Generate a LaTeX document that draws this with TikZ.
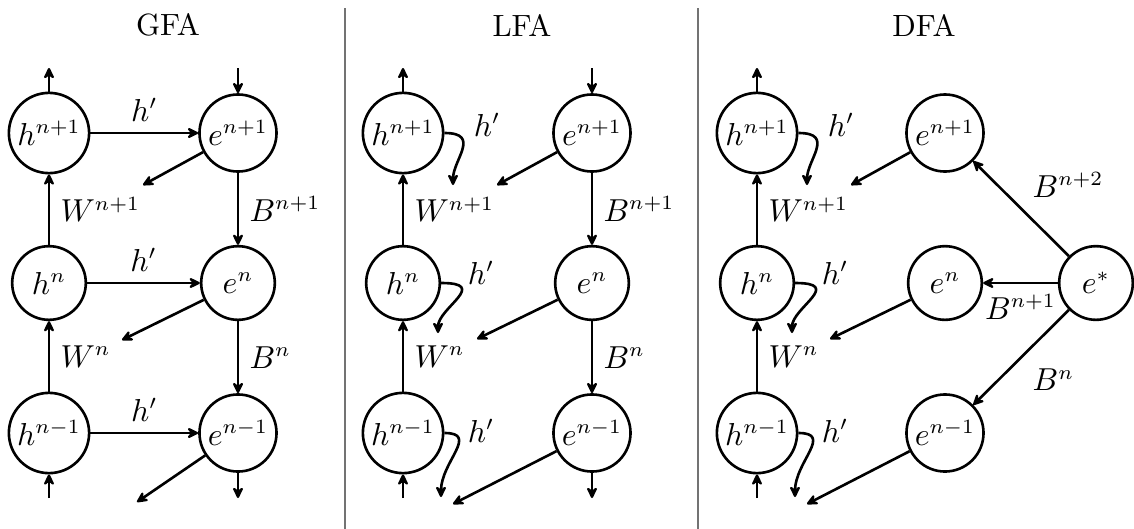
\documentclass[tikz,border=0pt]{standalone}
\usetikzlibrary{arrows.meta}
\begin{document}
\fontsize{10.6pt}{12.7pt}\selectfont
\begin{tikzpicture}[x=0.3448pt, y=-0.3448pt,
  unit/.style={circle, draw, line width=0.9pt, inner sep=1.6pt, minimum size=25.4pt},
  flow/.style={line width=0.9pt, -{Stealth[length=5pt, width=4.8pt, inset=2pt, round]}},
  panel/.style={draw=black!55, line width=0.5pt},
  title/.style={inner sep=0pt}]
\useasboundingbox (0,0) rectangle (1134,529);

% panel separators
\coordinate (s1t) at (345,8);  \coordinate (s1b) at (345,529);
\coordinate (s2t) at (698,8);  \coordinate (s2b) at (698,529);
\draw[panel] (s1t) -- (s1b);
\draw[panel] (s2t) -- (s2b);

% titles
\node[title] (tg) at (168,25) {GFA};
\node[title] (tl) at (522,25) {LFA};
\node[title] (td) at (924,25) {DFA};

% ---------------- GFA ----------------
\node[unit] (gha) at (49,133) {$h^{n+1}$};
\node[unit] (ghb) at (49,283) {$h^{n}$};
\node[unit] (ghc) at (49,433) {$h^{n-1}$};
\node[unit] (gea) at (238,133) {$e^{n+1}$};
\node[unit] (geb) at (238,283) {$e^{n}$};
\node[unit] (gec) at (238,433) {$e^{n-1}$};
\coordinate (gth) at (49,68);   \coordinate (gte) at (238,68);
\coordinate (gbh) at (49,498);  \coordinate (gbe) at (238,498);
\coordinate (gwa) at (143,185); \coordinate (gwb) at (122,340);
\coordinate (gwc) at (137,502);

\draw[flow] (gha) -- (gth);
\draw[flow] (gte) -- (gea);
\draw[flow] (gbh) -- (ghc);
\draw[flow] (gec) -- (gbe);
\draw[flow] (ghc) -- node[midway,right] {$W^{n}$} (ghb);
\draw[flow] (ghb) -- node[midway,right] {$W^{n+1}$} (gha);
\draw[flow] (gha) -- node[midway,above] {$h'$} (gea);
\draw[flow] (ghb) -- node[midway,above] {$h'$} (geb);
\draw[flow] (ghc) -- node[midway,above] {$h'$} (gec);
\draw[flow] (gea) -- node[midway,right] {$B^{n+1}$} (geb);
\draw[flow] (geb) -- node[midway,right] {$B^{n}$} (gec);
\draw[flow] (gea) -- (gwa);
\draw[flow] (geb) -- (gwb);
\draw[flow] (gec) -- (gwc);

% ---------------- LFA ----------------
\node[unit] (lha) at (403,133) {$h^{n+1}$};
\node[unit] (lhb) at (403,283) {$h^{n}$};
\node[unit] (lhc) at (403,433) {$h^{n-1}$};
\node[unit] (lea) at (592,133) {$e^{n+1}$};
\node[unit] (leb) at (592,283) {$e^{n}$};
\node[unit] (lec) at (592,433) {$e^{n-1}$};
\coordinate (lth) at (403,68);  \coordinate (lte) at (592,68);
\coordinate (lbh) at (403,498); \coordinate (lbe) at (592,498);
\coordinate (lca) at (453,185); \coordinate (lcb) at (438,333);
\coordinate (lcc) at (441,497);
\coordinate (lwa) at (497,185); \coordinate (lwb) at (477,339);
\coordinate (lwc) at (453,504);

\draw[flow] (lha) -- (lth);
\draw[flow] (lte) -- (lea);
\draw[flow] (lbh) -- (lhc);
\draw[flow] (lec) -- (lbe);
\draw[flow] (lhc) -- node[midway,right] {$W^{n}$} (lhb);
\draw[flow] (lhb) -- node[midway,right] {$W^{n+1}$} (lha);
\draw[flow] (lea) -- node[midway,right] {$B^{n+1}$} (leb);
\draw[flow] (leb) -- node[midway,right] {$B^{n}$} (lec);
\draw[flow] (lha.east) .. controls +(37,0) and +(0,-25) .. (lca);
\draw[flow] (lhb.east) .. controls +(49,0) and +(0,-25) .. (lcb);
\draw[flow] (lhc.east) .. controls +(35,0) and +(0,-35) .. (lcc);
\node (lpa) at (487,125) {$h'$};
\node (lpb) at (481,273) {$h'$};
\node (lpc) at (481,431) {$h'$};
\draw[flow] (lea) -- (lwa);
\draw[flow] (leb) -- (lwb);
\draw[flow] (lec) -- (lwc);

% ---------------- DFA ----------------
\node[unit] (dha) at (757,133) {$h^{n+1}$};
\node[unit] (dhb) at (757,283) {$h^{n}$};
\node[unit] (dhc) at (757,433) {$h^{n-1}$};
\node[unit] (dea) at (945,133) {$e^{n+1}$};
\node[unit] (deb) at (945,283) {$e^{n}$};
\node[unit] (dec) at (945,433) {$e^{n-1}$};
\node[unit] (des) at (1096,283) {$e^{*}$};
\coordinate (dth) at (757,68);  \coordinate (dbh) at (757,498);
\coordinate (dca) at (807,185); \coordinate (dcb) at (792,333);
\coordinate (dcc) at (795,497);
\coordinate (dwa) at (851,185); \coordinate (dwb) at (830,339);
\coordinate (dwc) at (807,504);

\draw[flow] (dha) -- (dth);
\draw[flow] (dbh) -- (dhc);
\draw[flow] (dhc) -- node[midway,right] {$W^{n}$} (dhb);
\draw[flow] (dhb) -- node[midway,right] {$W^{n+1}$} (dha);
\draw[flow] (dha.east) .. controls +(37,0) and +(0,-25) .. (dca);
\draw[flow] (dhb.east) .. controls +(49,0) and +(0,-25) .. (dcb);
\draw[flow] (dhc.east) .. controls +(35,0) and +(0,-35) .. (dcc);
\node (dpa) at (841,125) {$h'$};
\node (dpb) at (835,273) {$h'$};
\node (dpc) at (835,431) {$h'$};
\draw[flow] (dea) -- (dwa);
\draw[flow] (deb) -- (dwb);
\draw[flow] (dec) -- (dwc);
\draw[flow] (des) -- node[midway,above right] {$B^{n+2}$} (dea);
\draw[flow] (des) -- node[midway,below] {$B^{n+1}$} (deb);
\draw[flow] (des) -- node[midway,below right] {$B^{n}$} (dec);
\end{tikzpicture}
\end{document}
